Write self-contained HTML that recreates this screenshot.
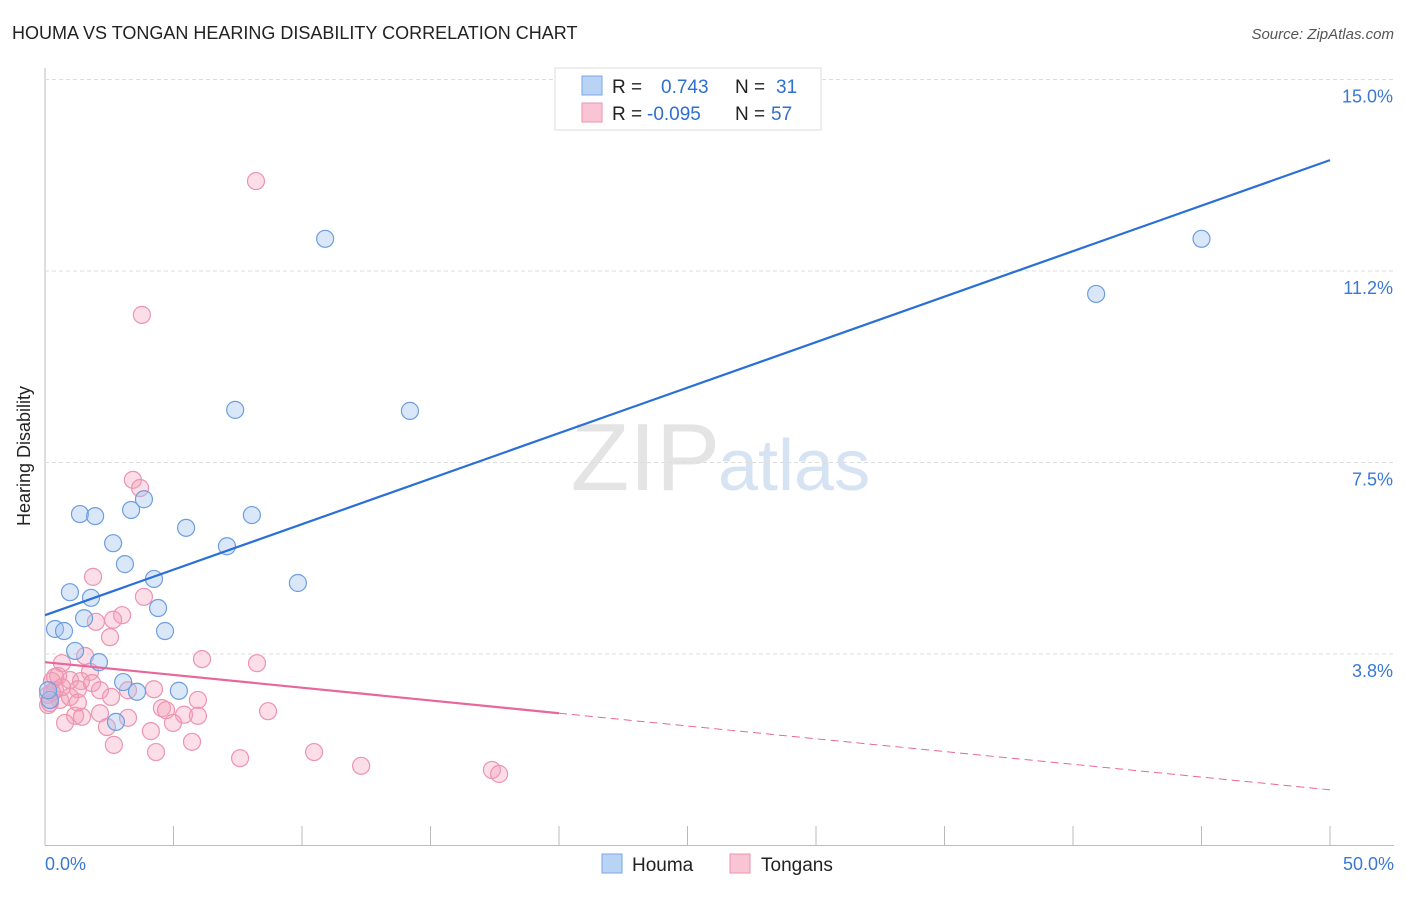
<!DOCTYPE html>
<html><head><meta charset="utf-8"><style>
body{margin:0;background:#fff;font-family:"Liberation Sans",sans-serif;}
svg text{font-family:"Liberation Sans",sans-serif;}
</style></head><body>
<svg id="c" width="1406" height="892" xmlns="http://www.w3.org/2000/svg">
<text x="12" y="39" font-size="18" fill="#222">HOUMA VS TONGAN HEARING DISABILITY CORRELATION CHART</text>
<text x="1394" y="39" font-size="15" fill="#555" font-style="italic" text-anchor="end">Source: ZipAtlas.com</text>
<text x="30" y="456" font-size="18" fill="#222" transform="rotate(-90 30 456)" text-anchor="middle">Hearing Disability</text>
<text x="720" y="490" font-size="96" fill="#e4e4e4" text-anchor="end" font-family="Liberation Serif">ZIP</text>
<text x="718" y="490" font-size="72" fill="#d6e3f3">atlas</text>
<g id="grid"></g><g id="pts"></g><g id="lines"></g>
<g>
<rect x="555" y="68" width="266" height="62" fill="#fff" stroke="#ddd"/>
<rect x="582" y="76" width="20" height="19" fill="#b9d3f5" stroke="#7aa7e6"/>
<rect x="582" y="103" width="20" height="19" fill="#f9c4d3" stroke="#ee93b0"/>
<text x="612" y="93" font-size="19" fill="#222">R = <tspan fill="#2f6fd0" x="661">0.743</tspan><tspan fill="#222" x="735">N = </tspan><tspan fill="#2f6fd0" x="776">31</tspan></text>
<text x="612" y="120" font-size="19" fill="#222">R = <tspan fill="#2f6fd0" x="647">-0.095</tspan><tspan fill="#222" x="735">N = </tspan><tspan fill="#2f6fd0" x="771">57</tspan></text>
</g>
<g>
<rect x="602" y="854" width="20" height="19" fill="#b9d3f5" stroke="#7aa7e6"/>
<text x="632" y="871" font-size="19" fill="#222">Houma</text>
<rect x="730" y="854" width="20" height="19" fill="#f9c4d3" stroke="#ee93b0"/>
<text x="761" y="871" font-size="19" fill="#222">Tongans</text>
</g>
</svg>
<script>
const yTicks=[3.75,7.5,11.25,15];
const yTickLabels=["3.8%","7.5%","11.2%","15.0%"];
const xTicks=[0,5,10,15,20,25,30,35,40,45,50];
const houmaX=[10.9,45.0,40.9,7.4,14.2,1.36,1.95,3.35,3.85,5.49,8.05,2.65,7.08,3.11,4.24,9.84,0.97,1.79,4.40,1.52,0.39,0.74,4.67,1.17,2.10,3.04,3.58,5.21,2.76,0.19,0.12];
const houmaY=[11.88,11.88,10.80,8.53,8.51,6.49,6.45,6.57,6.78,6.22,6.47,5.92,5.86,5.51,5.22,5.14,4.96,4.85,4.65,4.45,4.24,4.20,4.20,3.81,3.59,3.20,3.01,3.03,2.42,2.85,3.04];
const tonganX=[8.21,3.77,3.42,3.70,1.87,3.85,3.00,2.65,1.98,2.53,6.11,8.25,0.66,1.56,1.75,0.51,0.97,0.27,1.40,1.83,0.39,1.28,2.14,3.23,4.24,0.12,0.58,0.97,2.57,5.95,4.55,4.71,8.68,2.14,1.17,1.44,3.23,5.41,5.95,0.78,2.41,4.98,4.12,5.72,2.68,4.32,7.59,10.47,12.30,17.39,17.67,0.19,0.39,0.66,1.28,0.27,0.12];
const tonganY=[13.01,10.39,7.16,7.00,5.26,4.87,4.51,4.42,4.38,4.08,3.65,3.57,3.57,3.71,3.40,3.32,3.24,3.22,3.22,3.18,3.04,3.06,3.04,3.04,3.06,2.95,2.85,2.91,2.91,2.85,2.69,2.65,2.63,2.59,2.54,2.52,2.50,2.56,2.54,2.40,2.32,2.40,2.24,2.03,1.97,1.83,1.71,1.83,1.56,1.48,1.40,2.79,3.30,3.10,2.80,3.00,2.75];
const houmaTrend=[4.51,13.42];
const tonganTrend=[3.59,1.09];
const xs=v=>45+v*25.7, ys=v=>845.5-v*51.07;
const NS="http://www.w3.org/2000/svg";
function mk(t,a,p){const e=document.createElementNS(NS,t);for(const k in a)e.setAttribute(k,a[k]);p.appendChild(e);return e;}
const grid=document.getElementById('grid');
mk('line',{x1:45,y1:845.5,x2:1394,y2:845.5,stroke:'#bbb'},grid);
mk('line',{x1:45,y1:68,x2:45,y2:845.5,stroke:'#bbb'},grid);
yTicks.forEach((t,i)=>{
 const l=mk('line',{x1:45,y1:ys(t),x2:1394,y2:ys(t),stroke:'#ddd','stroke-dasharray':'4,3'},grid);
 
 
 const tx=mk('text',{x:1393,y:ys(t)+23,'font-size':18,fill:'#3a78d4','text-anchor':'end'},grid);
 tx.textContent=yTickLabels[i];
 
 
});
xTicks.forEach(t=>{
 const l=mk('line',{x1:xs(t),y1:826,x2:xs(t),y2:845,stroke:'#bbb'},grid);
 
 
});
const x0=mk('text',{x:45,y:870,'font-size':18,fill:'#3a78d4'},grid);x0.textContent='0.0%';


const x1=mk('text',{x:1394,y:870,'font-size':18,fill:'#3a78d4','text-anchor':'end'},grid);x1.textContent='50.0%';


const pts=document.getElementById('pts');
tonganX.forEach((v,i)=>{
 const c=mk('circle',{cx:xs(v),cy:ys(tonganY[i]),r:8.5,fill:'rgba(244,160,185,0.35)',stroke:'#ee93b0','stroke-width':1.2},pts);
 
 
});
houmaX.forEach((v,i)=>{
 const c=mk('circle',{cx:xs(v),cy:ys(houmaY[i]),r:8.5,fill:'rgba(160,195,240,0.4)',stroke:'#6d9ee0','stroke-width':1.2},pts);
 
 
});
const lines=document.getElementById('lines');
const hl=mk('line',{x1:xs(0),y1:ys(houmaTrend[0]),x2:xs(50),y2:ys(houmaTrend[1]),stroke:'#2a6fd6','stroke-width':2.2},lines);


const tm=tonganTrend[0]+(tonganTrend[1]-tonganTrend[0])*0.4;
const tl=mk('line',{x1:xs(0),y1:ys(tonganTrend[0]),x2:xs(20),y2:ys(tm),stroke:'#e8679a','stroke-width':2.2},lines);


const td=mk('line',{x1:xs(20),y1:ys(tm),x2:xs(50),y2:ys(tonganTrend[1]),stroke:'#e8679a','stroke-width':1,'stroke-dasharray':'8,5'},lines);


</script>
</body></html>
